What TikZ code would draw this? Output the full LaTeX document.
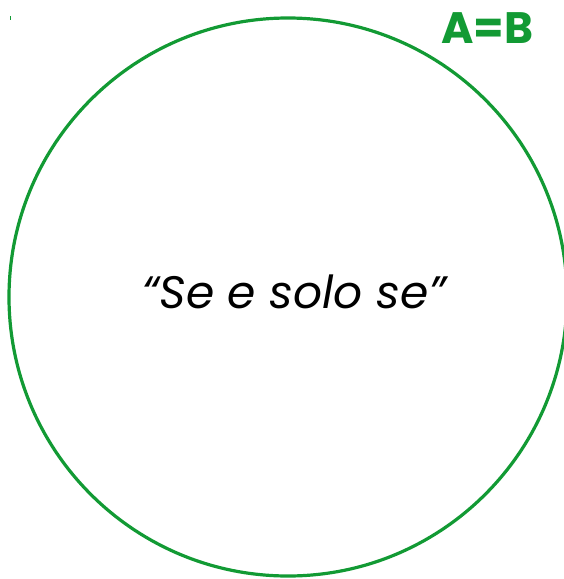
\documentclass[tikz,border=0pt]{standalone}
\usepackage{fontspec}
\setmainfont{Poppins}
\definecolor{circgreen}{RGB}{18,154,52}
\begin{document}
\begin{tikzpicture}[x=1pt,y=-1pt]
\useasboundingbox (0,0) rectangle (564,579);
\tikzset{ring/.style={draw=circgreen,line width=3.2pt},
  title/.style={text=circgreen,font=\fontsize{44}{48}\selectfont\bfseries,inner sep=0pt},
  phrase/.style={font=\fontsize{45.5}{50}\selectfont\itshape,inner sep=0pt}}
\node[ring,circle,minimum size=558pt,inner sep=0pt] (c) at (288,297) {};
\node[title] (ab) at (487.5,28) {A=B};
\node[phrase] (t) at (294,292) {“Se e solo se”};
\coordinate (m1) at (10,16);
\coordinate (m2) at (10,20);
\draw[circgreen,line width=0.8pt] (m1) -- (m2);
\end{tikzpicture}
\end{document}
